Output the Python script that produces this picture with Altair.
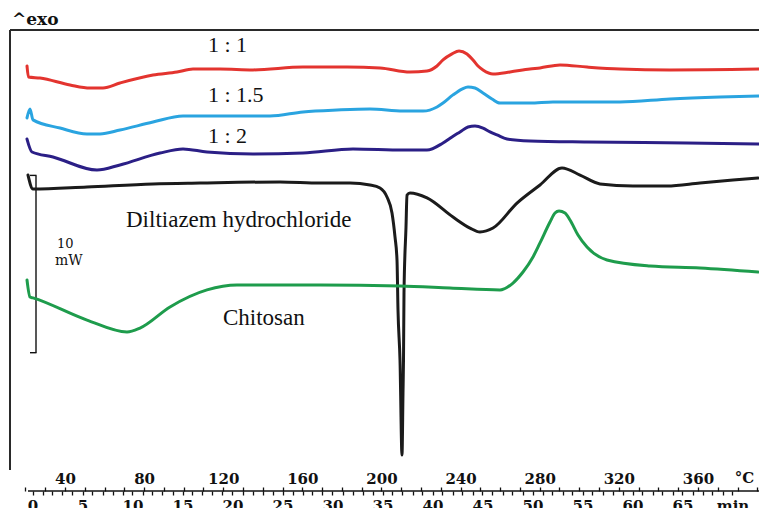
import altair as alt
import pandas as pd

# DSC thermograms: heat flow (mW, exo up, curves stacked) against time (min)
names = ["1 : 1", "1 : 1.5", "1 : 2", "Diltiazem hydrochloride", "Chitosan"]
colors = ["#e3342f", "#2aa4e0", "#2b1f86", "#1b1b1b", "#1e9c4c"]

t_r11 = [-0.55, -0.40, 0.75, 3.75, 5.75, 7.05, 8.75, 12.05, 14.45, 16.05, 18.75, 22.05,
         27.05, 31.45, 34.75, 37.75, 39.45, 40.45, 41.05, 41.95, 42.65, 43.45, 44.05,
         44.55, 45.05, 46.05, 47.75, 49.75, 50.75, 52.75, 55.45, 58.75, 63.75, 72.65]
hf_r11 = [23.97, 23.35, 23.29, 22.90, 22.73, 22.73, 23.01, 23.46, 23.63, 23.80, 23.80, 23.75,
          23.91, 23.91, 23.86, 23.63, 23.69, 23.97, 24.31, 24.65, 24.82, 24.65, 24.31,
          23.97, 23.75, 23.52, 23.63, 23.80, 23.86, 24.03, 23.91, 23.80, 23.75, 23.80]

t_r115 = [-0.55, -0.25, 0.05, 2.75, 5.45, 6.75, 8.75, 12.05, 15.05, 18.75, 23.75, 27.05,
          30.45, 33.75, 37.05, 39.05, 40.45, 41.05, 42.05, 42.95, 43.55, 44.25, 45.05,
          45.95, 46.75, 49.75, 52.05, 58.75, 63.75, 68.75, 72.65]
hf_r115 = [21.04, 21.55, 20.93, 20.47, 20.14, 20.14, 20.36, 20.81, 21.15, 21.15, 21.15, 21.38,
           21.49, 21.55, 21.43, 21.43, 21.66, 21.88, 22.34, 22.67, 22.79, 22.73, 22.45,
           22.11, 21.88, 21.88, 21.94, 21.94, 22.11, 22.22, 22.28]

t_r12 = [-0.55, -0.05, 2.05, 6.45, 8.75, 12.75, 15.05, 17.45, 22.05, 27.05, 32.05, 37.05,
         39.45, 41.05, 41.95, 42.75, 43.55, 44.25, 45.05, 45.75, 46.45, 47.45, 49.75,
         55.45, 65.45, 72.65]
hf_r12 = [19.85, 19.12, 18.84, 18.10, 18.39, 19.06, 19.29, 19.12, 19.01, 19.06, 19.29, 19.23,
          19.23, 19.63, 19.97, 20.25, 20.53, 20.59, 20.47, 20.25, 20.08, 19.85, 19.74,
          19.68, 19.63, 19.57]

t_dil = [-0.45, 0.05, 5.45, 12.05, 16.75, 24.75, 28.75, 31.75, 33.75, 34.75, 35.45, 35.95,
         36.25, 36.45, 36.55, 36.75, 36.95, 37.05, 37.10, 37.15, 37.35, 37.45, 37.75,
         39.45, 42.05, 43.75, 44.75, 46.05, 48.45, 50.75, 52.95, 54.75, 56.75, 60.05,
         63.45, 66.75, 70.05, 72.55]
hf_dil = [17.82, 17.03, 17.15, 17.32, 17.37, 17.43, 17.37, 17.37, 17.26, 17.09, 16.58, 15.68,
          14.33, 13.03, 10.21, 7.39, 2.03, 5.53, 7.39, 11.17, 14.89, 16.69, 16.81,
          16.53, 15.45, 14.83, 14.61, 14.83, 16.24, 17.26, 18.22, 17.82, 17.32, 17.20,
          17.20, 17.37, 17.54, 17.65]

t_chi = [-0.55, -0.25, 0.05, 5.45, 9.45, 10.75, 13.75, 17.45, 20.45, 28.75, 36.75, 41.75,
         46.75, 48.05, 49.05, 50.05, 50.75, 51.75, 52.25, 52.65, 53.25, 53.75, 54.55,
         55.45, 57.45, 61.75, 66.75, 72.55]
hf_chi = [11.90, 10.94, 10.89, 9.64, 8.97, 9.19, 10.38, 11.34, 11.62, 11.62, 11.56, 11.45,
          11.34, 11.73, 12.35, 13.20, 13.99, 15.17, 15.68, 15.79, 15.68, 15.28, 14.44,
          13.76, 13.03, 12.69, 12.58, 12.35]

minute_ticks = list(range(0, 71))
temp_ticks = list(range(20, 391, 10))
scale_bar_mw = [7.8, 17.8]  # 10 mW bar

series = [t_r11, t_r115, t_r12, t_dil, t_chi]
values = [hf_r11, hf_r115, hf_r12, hf_dil, hf_chi]
rows = []
for name, ts, vs in zip(names, series, values):
    for i, (t, v) in enumerate(zip(ts, vs)):
        rows.append({"sample": name, "time": t, "hf": v, "idx": i})
df = pd.DataFrame(rows)

W, H = 749, 461
x_time = alt.Scale(domain=[-2.25, 72.65], nice=False, zero=False)
y_hf = alt.Scale(domain=[0, 26], nice=False, zero=False)
one = pd.DataFrame({"k": [0]})

curves = alt.Chart(df).mark_line(
    strokeWidth=3, interpolate="monotone", strokeJoin="round", strokeCap="round"
).encode(
    x=alt.X("time:Q", scale=x_time, axis=alt.Axis(
        values=minute_ticks, title=None, grid=False, domain=False,
        labelExpr="datum.value == 70 ? 'min' : (datum.value % 5 == 0 ? datum.label : '')",
        labelOverlap=False, labelFont="DejaVu Serif", labelFontWeight="bold",
        labelFontSize=15, labelColor="#111", labelPadding=3,
        tickSize=4, tickColor="#111", tickWidth=1.3)),
    y=alt.Y("hf:Q", scale=y_hf, axis=None),
    color=alt.Color("sample:N", scale=alt.Scale(domain=names, range=colors), legend=None),
    order="idx:Q",
)

frame_top = alt.Chart(one).mark_rule(color="#2a2a2a", strokeWidth=2).encode(
    x=alt.value(0), x2=alt.value(W), y=alt.value(0))
frame_left = alt.Chart(one).mark_rule(color="#2a2a2a", strokeWidth=2).encode(
    x=alt.value(0), y=alt.value(0), y2=alt.value(440))
axis_line = alt.Chart(one).mark_rule(color="#111", strokeWidth=1.5).encode(
    x=alt.value(18), x2=alt.value(W), y=alt.value(H))

bar_df = pd.DataFrame({"lo": [scale_bar_mw[0]], "hi": [scale_bar_mw[1]]})
bar_v = alt.Chart(bar_df).mark_rule(color="#111", strokeWidth=1.4).encode(
    x=alt.value(26), y=alt.Y("lo:Q", scale=y_hf, axis=None), y2="hi:Q")
bar_lo = alt.Chart(bar_df).mark_rule(color="#111", strokeWidth=1.4).encode(
    x=alt.value(20), x2=alt.value(26.5), y=alt.Y("lo:Q", scale=y_hf, axis=None))
bar_hi = alt.Chart(bar_df).mark_rule(color="#111", strokeWidth=1.4).encode(
    x=alt.value(20), x2=alt.value(26.5), y=alt.Y("hi:Q", scale=y_hf, axis=None))


def label(txt, x, y, size=22, font="Liberation Serif", weight="normal"):
    return alt.Chart(one).mark_text(
        text=txt, align="left", baseline="alphabetic", font=font,
        fontSize=size, fontWeight=weight, color="#111"
    ).encode(x=alt.value(x), y=alt.value(y))


labels = [
    label("1 : 1", 198, 22),
    label("1 : 1.5", 198, 72),
    label("1 : 2", 198, 113),
    label("Diltiazem hydrochloride", 116, 197, size=23),
    label("Chitosan", 213, 295, size=23),
    label("10", 47, 218, size=13, font="DejaVu Serif"),
    label("mW", 45, 235, size=14, font="DejaVu Serif"),
    label("^exo", 2, -5, size=17, font="DejaVu Serif", weight="bold"),
]

inner = alt.layer(frame_top, frame_left, axis_line, bar_v, bar_lo, bar_hi, curves, *labels)

# temperature scale (°C) sharing the same baseline, labels above the line
temp_df = pd.DataFrame({"T": [383.5], "unit": ["°C"]})
temp_layer = alt.Chart(temp_df).mark_text(
    align="center", baseline="alphabetic", font="DejaVu Serif", fontWeight="bold",
    fontSize=15, color="#111"
).encode(
    x=alt.X("T:Q", scale=alt.Scale(domain=[12.23, 390.85], nice=False, zero=False),
            axis=alt.Axis(orient="top", offset=-H, values=temp_ticks, title=None,
                          grid=False, domain=False,
                          labelExpr="datum.value % 40 == 0 ? datum.label : ''",
                          labelOverlap=False, labelFont="DejaVu Serif",
                          labelFontWeight="bold", labelFontSize=15, labelColor="#111",
                          labelPadding=1, tickSize=4, tickColor="#111", tickWidth=1.3)),
    y=alt.value(453),
    text="unit:N",
)

chart = alt.layer(inner, temp_layer).resolve_scale(x="independent").properties(
    width=W, height=H,
    autosize=alt.AutoSizeParams(type="none"),
    padding={"left": 10, "top": 30, "right": 0, "bottom": 17},
    background="white",
).configure_view(stroke=None)

chart.save("out.html", embed_options={"renderer": "svg", "actions": False})
